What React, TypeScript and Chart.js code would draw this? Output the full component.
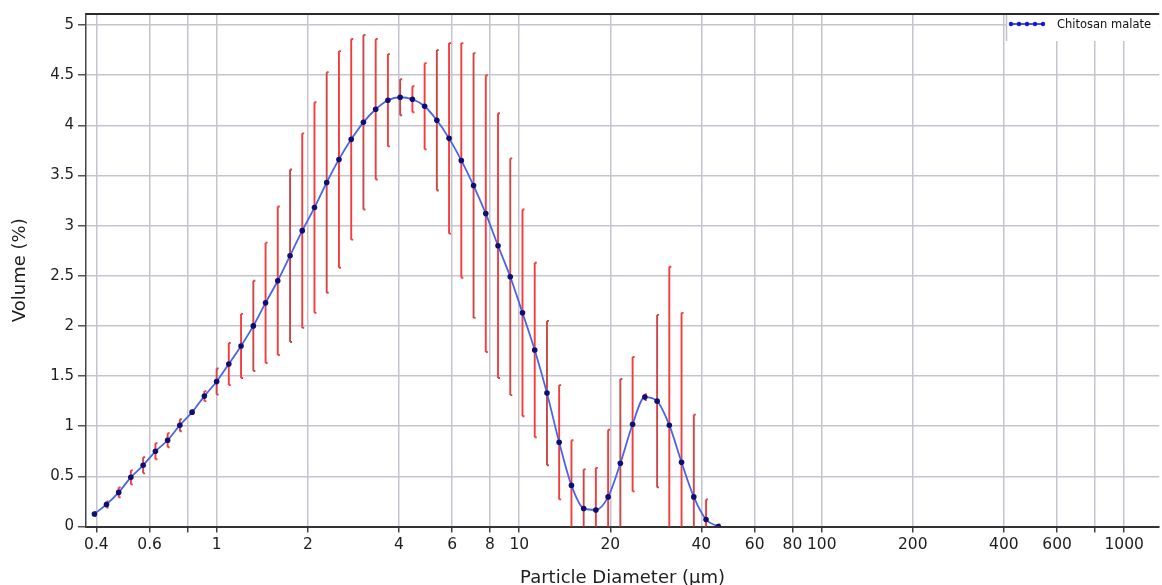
import React, { useEffect, useRef } from 'react';
import { Chart, registerables } from 'chart.js';

Chart.register(...registerables);

const seriesLabel = 'Chitosan malate';

const diameters = [
  0.394, 0.432, 0.474, 0.52, 0.571, 0.627, 0.688, 0.755, 0.829, 0.91,
  0.999, 1.096, 1.203, 1.321, 1.45, 1.591, 1.747, 1.917, 2.104, 2.309,
  2.535, 2.783, 3.054, 3.353, 3.68, 4.039, 4.434, 4.866, 5.341, 5.861,
  6.434, 7.062, 7.751, 8.508, 9.339, 10.25, 11.25, 12.35, 13.55, 14.88,
  16.33, 17.92, 19.67, 21.59, 23.7, 26.01, 28.56, 31.34, 34.4, 37.76,
  41.45, 45.5,
];

const volumes = [
  0.125, 0.22, 0.34, 0.49, 0.61, 0.75, 0.86, 1.01, 1.14, 1.3,
  1.445, 1.62, 1.8, 2.0, 2.23, 2.45, 2.7, 2.95, 3.18, 3.43,
  3.66, 3.86, 4.03, 4.16, 4.25, 4.28, 4.26, 4.19, 4.05, 3.87,
  3.65, 3.4, 3.12, 2.8, 2.49, 2.13, 1.76, 1.33, 0.84, 0.41,
  0.18, 0.165, 0.295, 0.63, 1.02, 1.29, 1.25, 1.01, 0.64, 0.295,
  0.07, 0.0,
];

const errors = [
  0.02, 0.03, 0.05, 0.07, 0.08, 0.08, 0.07, 0.06, 0.02, 0.05,
  0.13, 0.21, 0.32, 0.45, 0.6, 0.74, 0.86, 0.97, 1.05, 1.1,
  1.08, 1.0, 0.87, 0.7, 0.46, 0.18, 0.13, 0.43, 0.7, 0.95,
  1.17, 1.32, 1.38, 1.32, 1.18, 1.03, 0.87, 0.72, 0.57, 0.45,
  0.39, 0.42, 0.67, 0.84, 0.67, 0.03, 0.86, 1.58, 1.49, 0.82,
  0.2, 0.02,
];

const xTickValues = [0.4, 0.6, 0.8, 1, 2, 4, 6, 8, 10, 20, 40, 60, 80, 100, 200, 400, 600, 800, 1000];
const xTickLabels = ['0.4', '0.6', '', '1', '2', '4', '6', '8', '10', '20', '40', '60', '80', '100', '200', '400', '600', '', '1000'];
const yTickValues = [0, 0.5, 1, 1.5, 2, 2.5, 3, 3.5, 4, 4.5, 5];

const FONT = "'DejaVu Sans', sans-serif";

const errorBarPlugin = {
  id: 'errorBars',
  beforeDatasetsDraw(chart: any) {
    const { ctx, chartArea, scales } = chart;
    const xs = scales.x;
    const ys = scales.y;
    ctx.save();
    ctx.beginPath();
    ctx.rect(chartArea.left, chartArea.top, chartArea.right - chartArea.left, chartArea.bottom - chartArea.top);
    ctx.clip();
    ctx.lineWidth = 1.9;
    for (let i = 0; i < diameters.length; i++) {
      const px = xs.getPixelForValue(diameters[i]);
      const yTop = ys.getPixelForValue(volumes[i] + errors[i]);
      const yBot = ys.getPixelForValue(volumes[i] - errors[i]);
      ctx.strokeStyle = i % 3 === 1 ? 'rgb(205,70,70)' : 'rgb(245,60,60)';
      ctx.beginPath();
      ctx.moveTo(px, yTop);
      ctx.lineTo(px, yBot);
      ctx.moveTo(px, yTop);
      ctx.lineTo(px + 2, yTop);
      ctx.moveTo(px, yBot);
      ctx.lineTo(px + 2, yBot);
      ctx.stroke();
    }
    ctx.restore();
  },
};

const framePlugin = {
  id: 'frameAndLegend',
  afterDraw(chart: any) {
    const { ctx, chartArea } = chart;
    ctx.save();
    ctx.strokeStyle = '#2a2a2a';
    ctx.lineWidth = 2;
    ctx.beginPath();
    ctx.moveTo(chartArea.left, chartArea.top);
    ctx.lineTo(chartArea.right, chartArea.top);
    ctx.stroke();
    const lx = 1006.5;
    const ly = chartArea.top + 1;
    ctx.fillStyle = '#fff';
    ctx.fillRect(lx, ly, chartArea.right - lx, 26);
    ctx.strokeStyle = '#c2c2cc';
    ctx.lineWidth = 1.5;
    ctx.beginPath();
    ctx.moveTo(lx, ly);
    ctx.lineTo(lx, ly + 26);
    ctx.stroke();
    const cy = 24;
    ctx.strokeStyle = 'rgb(20,20,230)';
    ctx.lineWidth = 1.5;
    ctx.beginPath();
    ctx.moveTo(1010, cy);
    ctx.lineTo(1044, cy);
    ctx.stroke();
    ctx.fillStyle = 'rgb(20,20,230)';
    for (let k = 0; k < 5; k++) {
      ctx.beginPath();
      ctx.arc(1011 + k * 8, cy, 2.2, 0, Math.PI * 2);
      ctx.fill();
    }
    ctx.fillStyle = '#111';
    ctx.font = `11.5px ${FONT}`;
    ctx.textBaseline = 'middle';
    ctx.textAlign = 'left';
    ctx.fillText(chart.data.datasets[0].label, 1057, cy + 1);
    ctx.restore();
  },
};

export default function App() {
  const canvasRef = useRef<HTMLCanvasElement | null>(null);

  useEffect(() => {
    if (!canvasRef.current) return;
    const chart = new Chart(canvasRef.current, {
      type: 'line',
      data: {
        datasets: [
          {
            label: seriesLabel,
            data: diameters.map((d, i) => ({ x: d, y: volumes[i] })),
            borderColor: 'rgb(75,100,230)',
            borderWidth: 1.8,
            pointRadius: 2.8,
            pointHoverRadius: 2.8,
            pointBackgroundColor: 'rgb(14,14,115)',
            pointBorderColor: 'rgb(14,14,115)',
            pointBorderWidth: 0,
            cubicInterpolationMode: 'monotone',
            fill: false,
          },
        ],
      },
      options: {
        animation: false,
        responsive: false,
        maintainAspectRatio: false,
        layout: { padding: { top: 14, left: 0, right: 1, bottom: 0 } },
        plugins: {
          legend: { display: false },
          tooltip: { enabled: false },
        },
        scales: {
          x: {
            type: 'logarithmic',
            min: 0.3696,
            max: 1305,
            afterBuildTicks: (scale: any) => {
              scale.ticks = xTickValues.map((v) => ({ value: v }));
            },
            afterFit: (scale: any) => {
              scale.height = 58.5;
            },
            ticks: {
              autoSkip: false,
              maxRotation: 0,
              padding: 3,
              color: '#1e1e1e',
              font: { family: FONT, size: 15.5 },
              callback: (value: any) => {
                const idx = xTickValues.indexOf(Number(value));
                return idx >= 0 ? xTickLabels[idx] : '';
              },
            },
            grid: {
              color: '#c4c4ce',
              lineWidth: 1.5,
              tickColor: '#444',
              tickLength: 6,
              drawTicks: true,
            },
            border: { display: true, color: '#333', width: 2 },
            title: {
              display: true,
              text: 'Particle Diameter (µm)',
              color: '#1e1e1e',
              font: { family: FONT, size: 18 },
              padding: { top: 0, bottom: -4 },
            },
          },
          y: {
            type: 'linear',
            min: 0,
            max: 5.11,
            afterBuildTicks: (scale: any) => {
              scale.ticks = yTickValues.map((v) => ({ value: v }));
            },
            afterFit: (scale: any) => {
              scale.width = 86;
            },
            ticks: {
              padding: 4,
              color: '#1e1e1e',
              font: { family: FONT, size: 15 },
              callback: (value: any) => String(value),
            },
            grid: {
              color: '#c4c4ce',
              lineWidth: 1.5,
              tickColor: '#555',
              tickLength: 8,
            },
            border: { display: true, color: '#444', width: 1.5 },
            title: {
              display: true,
              text: 'Volume (%)',
              color: '#1e1e1e',
              font: { family: FONT, size: 18 },
              padding: { top: 10, bottom: 0 },
            },
          },
        },
      },
      plugins: [errorBarPlugin, framePlugin],
    } as any);
    return () => chart.destroy();
  }, []);

  return (
    <div style={{ position: 'fixed', left: 0, top: 0, width: 1162, height: 585, background: '#fff' }}>
      <canvas ref={canvasRef} width={1162} height={585} style={{ width: 1162, height: 585, display: 'block' }} />
    </div>
  );
}
